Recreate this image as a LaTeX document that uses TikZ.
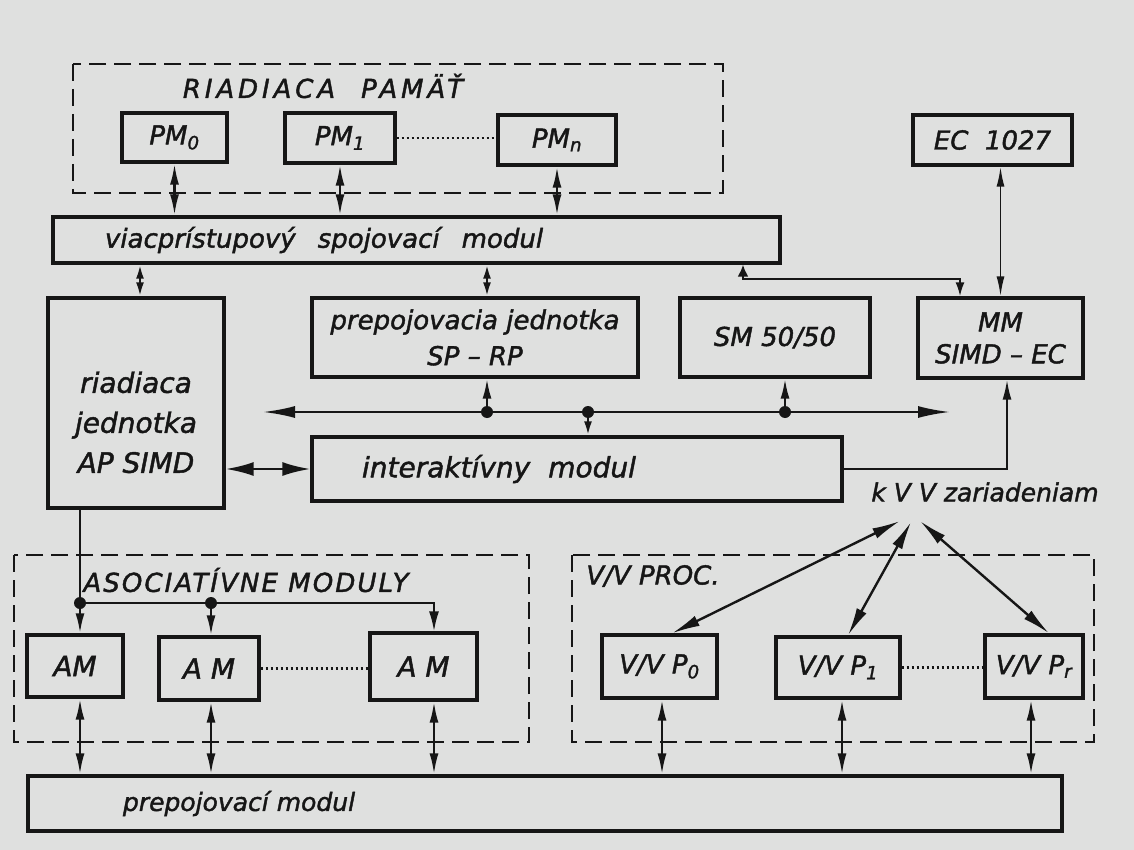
\documentclass[tikz,border=0pt]{standalone}
\usepackage{fontspec}
\setmainfont{DejaVu Sans}[ItalicFeatures={FakeBold=1.6}]
\usetikzlibrary{arrows.meta,positioning,calc}
\definecolor{paper}{RGB}{223,224,223}
\definecolor{ink}{RGB}{22,22,22}
\newcommand\lblfont{\fontsize{26}{33}\selectfont\itshape}

\begin{document}
\begin{tikzpicture}[x=1pt,y=-1pt,
  blk/.style={draw=ink,line width=3.4pt,inner sep=0pt,text=ink,font=\lblfont},
  grp/.style={draw=ink,line width=2.8pt,dash pattern=on 17pt off 8pt},
  ttl/.style={text=ink,font=\lblfont,inner sep=0pt},
  con/.style={draw=ink,line width=2.4pt},
  dbl/.style={con,{Latex[length=21pt,width=9pt]}-{Latex[length=21pt,width=9pt]}},
  sdbl/.style={con,{Latex[length=14pt,width=8pt]}-{Latex[length=14pt,width=8pt]}},
  one/.style={con,-{Latex[length=20pt,width=9pt]}},
  bigdbl/.style={con,{Latex[length=32pt,width=12pt]}-{Latex[length=32pt,width=12pt]}},
  kdbl/.style={con,{Latex[length=28pt,width=11pt]}-{Latex[length=28pt,width=11pt]}},
  dots/.style={draw=ink,line width=2.2pt,dash pattern=on 2.5pt off 2.5pt},
  pt/.style={circle,fill=ink,inner sep=0pt,minimum size=12pt}]
  \fill[paper] (0,0) rectangle (1134,850);
  \useasboundingbox (0,0) rectangle (1134,850);

  % riadiaca pamat
  \draw[grp] (73,64) rectangle (723,193);
  \node[ttl] (pamt) at (323,86) {\addfontfeature{LetterSpace=15}RIADIACA\quad PAMÄŤ};
  \node[blk,minimum width=105pt,minimum height=49pt] (pm0) at (174.5,137.5) {PM\textsubscript{0}};
  \node[blk,minimum width=110pt,minimum height=50pt] (pm1) at (340,138) {PM\textsubscript{1}};
  \node[blk,minimum width=118pt,minimum height=50pt] (pmn) at (557,140) {PM\textsubscript{n}};
  \node[blk,minimum width=159pt,minimum height=50pt] (ec) at (992.5,140) {EC\ \ 1027};
  \draw[dots] (pm1.east) -- (pm1.east -| pmn.west);

  % spojovaci modul
  \node[blk,minimum width=727pt,minimum height=46pt,inner xsep=52pt,text width=623pt,align=left]
    (vsm) at (416.5,240) {viacprístupový\hspace{22pt}spojovací\hspace{22pt}modul};
  \foreach \p in {pm0,pm1,pmn}
    \draw[dbl] (\p.south) -- (\p.south |- vsm.north);

  % jednotky
  \node[blk,minimum width=176pt,minimum height=210pt,align=center,
    font={\fontsize{28}{40}\selectfont\itshape}] (riad) at (136,403)
    {\rule{0pt}{60pt}riadiaca\\jednotka\\AP SIMD};
  \node[blk,minimum width=326pt,minimum height=79pt,align=center,
    font={\fontsize{26}{36}\selectfont\itshape}] (prep) at (475,337.5)
    {prepojovacia jednotka\\SP – RP};
  \node[blk,minimum width=190pt,minimum height=79pt] (sm) at (775,337.5) {SM 50/50};
  \node[blk,minimum width=165pt,minimum height=80pt,align=center,
    font={\fontsize{26}{32}\selectfont\itshape}] (mm) at (1000.5,338) {MM\\SIMD – EC};
  \node[blk,minimum width=530pt,minimum height=64pt,inner xsep=50pt,text width=430pt,align=left,
    font={\fontsize{28}{34}\selectfont\itshape}] (inter) at (577,469)
    {interaktívny\hspace{18pt}modul};

  \draw[sdbl] ([xshift=4pt]riad.north) -- ([xshift=4pt]riad.north |- vsm.south);
  \draw[sdbl] ([xshift=12pt]prep.north) -- ([xshift=12pt]prep.north |- vsm.south);
  \draw[con,line width=1.8pt,{Latex[length=20pt,width=8pt]}-{Latex[length=20pt,width=8pt]}]
    (mm.north) -- (mm.north |- ec.south);
  \coordinate (mmlink) at (743,279);
  \draw[con,line width=2pt,{Latex[length=14pt,width=9pt]}-{Latex[length=12pt,width=11pt]}]
    ([xshift=-40.5pt]mm.north) |- (mmlink) -- (mmlink |- vsm.south);

  % zbernica
  \coordinate (busL) at (263,412);
  \coordinate (busR) at (950,412);
  \draw[bigdbl] (busL) -- (busR);
  \node[pt] (bp1) at (487,412) {};
  \node[pt] (bp2) at (588,412) {};
  \node[pt] (bp3) at (785,412) {};
  \draw[one] (bp1) -- (bp1 |- prep.south);
  \draw[con,-{Latex[length=14pt,width=8pt]}] (bp2) -- (bp2 |- inter.north);
  \draw[one] (bp3) -- (bp3 |- sm.south);
  \draw[bigdbl,{Latex[length=28pt,width=14pt]}-{Latex[length=28pt,width=14pt]}]
    (riad.east |- inter.west) -- (inter.west);
  \draw[con,line width=2pt,-{Latex[length=20pt,width=9pt]}] (inter.east) -| ([xshift=6.5pt]mm.south);

  % asociativne moduly
  \draw[grp] (14,555) rectangle (529,742);
  \node[ttl] (asoct) at (246,580) {\addfontfeature{LetterSpace=8}ASOCIATÍVNE MODULY};
  \node[blk,minimum width=96pt,minimum height=62pt,font={\fontsize{28}{34}\selectfont\itshape}] (am1) at (75,666) {AM};
  \node[blk,minimum width=100pt,minimum height=63pt,font={\fontsize{28}{34}\selectfont\itshape}] (am2) at (209,668.5) {A M};
  \node[blk,minimum width=107pt,minimum height=67pt,font={\fontsize{28}{34}\selectfont\itshape}] (am3) at (423.5,666.5) {A M};
  \draw[dots] (am2.east) -- (am2.east -| am3.west);
  \node[pt] (j1) at (80,603) {};
  \node[pt] (j2) at (211,603) {};
  \draw[con,line width=2pt] (riad.south -| j1) -- (j1);
  \draw[con,line width=2pt,-{Latex[length=20pt,width=10pt]}] (j1) -- (j2) -| ([xshift=10.5pt]am3.north);
  \draw[one] (j1) -- (j1 |- am1.north);
  \draw[one] (j2) -- (j2 |- am2.north);

  % V/V procesory
  \draw[grp] (572,555) rectangle (1094,742);
  \node[ttl] (vvt) at (653,576) {V/V PROC.};
  \node[blk,minimum width=115pt,minimum height=63pt] (vp0) at (659.5,666.5) {V/V P\textsubscript{0}};
  \node[blk,minimum width=124pt,minimum height=61pt] (vp1) at (838,667.5) {V/V P\textsubscript{1}};
  \node[blk,minimum width=98pt,minimum height=63pt] (vpr) at (1034,666.5) {V/V P\textsubscript{r}};
  \draw[dots] (vp1.east) -- (vp1.east -| vpr.west);

  \node[ttl,font={\fontsize{25}{30}\selectfont\itshape}] (kvv) at (985,492) {k V V zariadeniam};
  \coordinate (kv0) at (900,521);
  \coordinate (kv1) at (911,522);
  \coordinate (kvr) at (920,521);
  \draw[kdbl] (kv0) -- ([xshift=12.5pt]vp0.north);
  \draw[kdbl] (kv1) -- ([xshift=10pt]vp1.north);
  \draw[kdbl] (kvr) -- ([xshift=15pt]vpr.north);

  % prepojovaci modul
  \node[blk,minimum width=1034pt,minimum height=55pt,inner xsep=95pt,text width=844pt,align=left,
    font={\fontsize{25}{30}\selectfont\itshape}] (prm) at (545,803.5)
    {prepojovací\hspace{8pt}modul};
  \foreach \a/\s in {am1/5,am2/2,am3/10.5,vp0/2.5,vp1/4,vpr/-3}
    \draw[dbl] ([xshift=\s pt]\a.south) -- ([xshift=\s pt]\a.south |- prm.north);
\end{tikzpicture}
\end{document}
